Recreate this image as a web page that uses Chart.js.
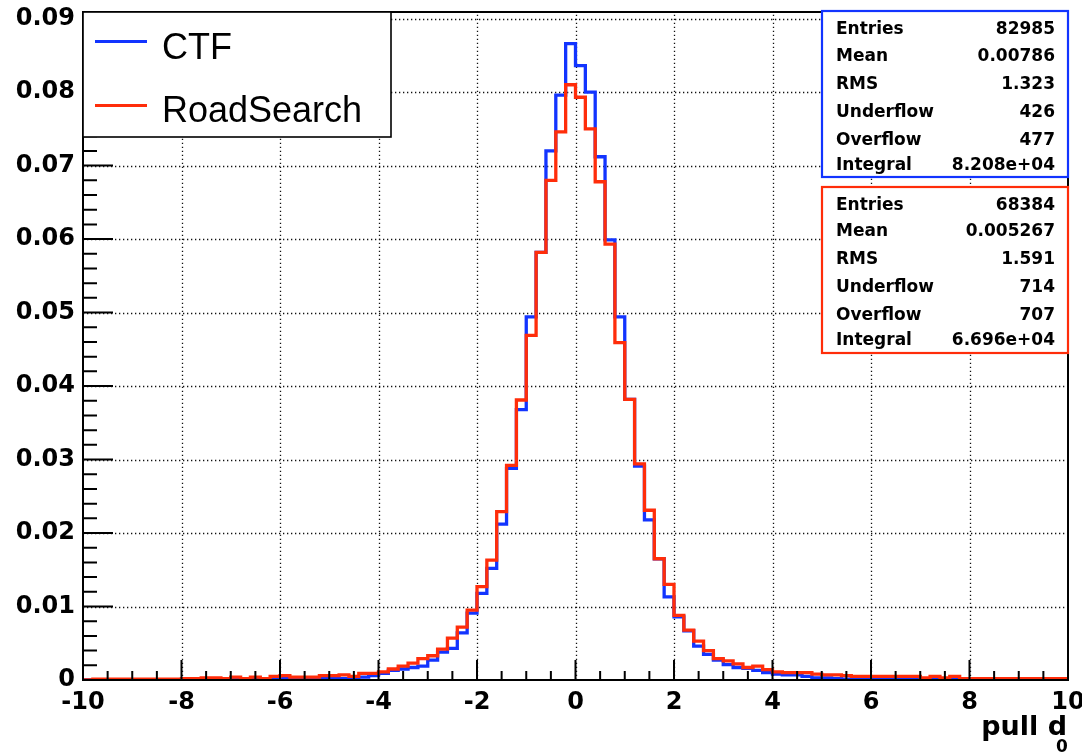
<!DOCTYPE html>
<html>
<head>
<meta charset="utf-8">
<script src="https://cdn.jsdelivr.net/npm/chart.js@4/dist/chart.umd.min.js"></script>
<style>
  body { margin: 0; background: #fff; }
  #wrap { width: 1082px; height: 753px; position: relative; }
</style>
</head>
<body>
<div id="wrap"><canvas id="pull"></canvas></div>
<script>
// histogramme : 100 bins de -10 a 10
const xMin = -10, xMax = 10, binWidth = 0.2;

const ctfValues = [
  0.00003, 0.00003, 0.00003, 0.00003, 0.00003, 0.00003, 0.00003, 0.00003, 0.00003, 0.00003,
  0.0001, 0.0001, 0.0001, 0.0001, 0.00008, 0.00008, 0.00008, 0.00008, 0.0002, 0.0002,
  0.0002, 0.0001, 0.0001, 0.0001, 0.0002, 0.0002, 0.0002, 0.0002, 0.0004, 0.0006,
  0.0009, 0.0013, 0.0015, 0.0017, 0.0019, 0.0027, 0.0038, 0.0043, 0.0064, 0.0091,
  0.0118, 0.0152, 0.0212, 0.0288, 0.0368, 0.0494, 0.0582, 0.0720, 0.0796, 0.0866,
  0.0836, 0.0800, 0.0712, 0.0599, 0.0494, 0.0382, 0.0291, 0.0218, 0.0165, 0.0113,
  0.0086, 0.0067, 0.0046, 0.0035, 0.0027, 0.0021, 0.0017, 0.0016, 0.0013, 0.0010,
  0.0008, 0.0007, 0.0007, 0.0005, 0.0003, 0.0003, 0.0002, 0.0001, 0.0001, 0.0001,
  0.0001, 0.0001, 0.0001, 0.0001, 0.0001, 0.0001, 0.0001, 0.0001, 0.0001, 0.00004,
  0.00004, 0.00004, 0.00004, 0.00004, 0.00004, 0.00004, 0.00004, 0.00004, 0.00004, 0.00004
];

const rsValues = [
  0.00003, 0.00013, 0.00013, 0.00013, 0.00013, 0.00013, 0.00013, 0.00013, 0.00013, 0.00013,
  0.0002, 0.0002, 0.0003, 0.0003, 0.0002, 0.0004, 0.0002, 0.0004, 0.0002, 0.0005,
  0.0006, 0.0004, 0.0004, 0.0004, 0.0006, 0.0006, 0.0007, 0.0005, 0.0009, 0.0009,
  0.0011, 0.0015, 0.0019, 0.0023, 0.0029, 0.0033, 0.0042, 0.0057, 0.0072, 0.0095,
  0.0127, 0.0163, 0.0229, 0.0292, 0.0381, 0.0469, 0.0582, 0.0680, 0.0746, 0.0810,
  0.0793, 0.0750, 0.0678, 0.0593, 0.0459, 0.0382, 0.0294, 0.0231, 0.0165, 0.0130,
  0.0088, 0.0068, 0.0053, 0.0040, 0.0029, 0.0026, 0.0022, 0.0017, 0.0019, 0.0014,
  0.0011, 0.0010, 0.0010, 0.0010, 0.0008, 0.0007, 0.0007, 0.0006, 0.0005, 0.0005,
  0.0005, 0.0005, 0.0005, 0.0005, 0.0005, 0.0003, 0.0005, 0.0003, 0.0005, 0.0002,
  0.0002, 0.0002, 0.0002, 0.0002, 0.0002, 0.0002, 0.0002, 0.0002, 0.0002, 0.0002
];

const xTicks = [-10, -8, -6, -4, -2, 0, 2, 4, 6, 8, 10];
const yTicks = [0, 0.01, 0.02, 0.03, 0.04, 0.05, 0.06, 0.07, 0.08, 0.09];
const yMax = 0.0909;

const statLabels = ['Entries', 'Mean', 'RMS', 'Underflow', 'Overflow', 'Integral'];
const ctfStats = ['82985', '0.00786', '1.323', '426', '477', '8.208e+04'];
const rsStats = ['68384', '0.005267', '1.591', '714', '707', '6.696e+04'];

const BLUE = '#1234ff';
const RED = '#ff2d0a';

// points des bords gauches des bins + bord droit final
function toSteps(values) {
  const pts = values.map((v, i) => ({ x: xMin + i * binWidth, y: v }));
  pts.push({ x: xMax, y: values[values.length - 1] });
  return pts;
}

const tickFont = { family: 'DejaVu Sans', weight: 'bold', size: 24 };

// grille pointillee (sous les histos)
const gridPlugin = {
  id: 'rootGrid',
  beforeDatasetsDraw(chart) {
    const { ctx, chartArea: a, scales: { x, y } } = chart;
    ctx.save();
    ctx.strokeStyle = '#111';
    ctx.lineWidth = 1.3;
    ctx.setLineDash([1.3, 2.7]);
    xTicks.forEach(v => {
      if (v === xMin || v === xMax) return;
      const px = Math.round(x.getPixelForValue(v)) + 0.5;
      ctx.beginPath(); ctx.moveTo(px, a.bottom); ctx.lineTo(px, a.top); ctx.stroke();
    });
    yTicks.forEach(v => {
      if (v === 0) return;
      const py = Math.round(y.getPixelForValue(v)) + 0.5;
      ctx.beginPath(); ctx.moveTo(a.left, py); ctx.lineTo(a.right, py); ctx.stroke();
    });
    ctx.restore();
  }
};

// cadre, ticks interieurs, legende, boites de stats, titre d'axe
const framePlugin = {
  id: 'rootFrame',
  afterDatasetsDraw(chart) {
    const { ctx, chartArea: a, scales: { x, y } } = chart;
    ctx.save();
    ctx.setLineDash([]);
    ctx.strokeStyle = '#000';

    // ticks
    ctx.lineWidth = 2;
    ctx.beginPath();
    for (let v = xMin; v <= xMax + 1e-9; v += 0.5) {
      const px = x.getPixelForValue(v);
      const major = Math.abs(v / 2 - Math.round(v / 2)) < 1e-6;
      ctx.moveTo(px, a.bottom); ctx.lineTo(px, a.bottom - (major ? 20 : 9));
    }
    for (let k = 0; k * 0.002 <= yMax; k++) {
      const py = y.getPixelForValue(k * 0.002);
      ctx.moveTo(a.left, py); ctx.lineTo(a.left + (k % 5 === 0 ? 30 : 14), py);
    }
    ctx.stroke();

    // cadre
    ctx.lineWidth = 2;
    ctx.strokeRect(a.left, a.top, a.right - a.left, a.bottom - a.top);

    // legende
    ctx.fillStyle = '#fff';
    ctx.fillRect(a.left, a.top, 308, 125);
    ctx.lineWidth = 1.6;
    ctx.strokeRect(a.left, a.top, 308, 125);
    const entries = [[chart.data.datasets[0], 41.5, 59], [chart.data.datasets[1], 105.5, 122]];
    entries.forEach(([ds, ly, by]) => {
      ctx.strokeStyle = ds.borderColor;
      ctx.lineWidth = 3;
      ctx.beginPath(); ctx.moveTo(95, ly); ctx.lineTo(147, ly); ctx.stroke();
      ctx.fillStyle = '#000';
      ctx.font = '36px "Liberation Sans"';
      ctx.textAlign = 'left';
      ctx.textBaseline = 'alphabetic';
      ctx.fillText(ds.label, 162, by);
    });

    // stats
    const boxes = [
      { color: BLUE, top: 11, vals: ctfStats, base: [34, 60.5, 88.5, 117, 145, 169.5] },
      { color: RED, top: 187, vals: rsStats, base: [209.5, 235.5, 264, 292, 319.5, 344.5] }
    ];
    boxes.forEach(b => {
      ctx.fillStyle = '#fff';
      ctx.fillRect(822, b.top, 246, 166);
      ctx.strokeStyle = b.color;
      ctx.lineWidth = 2.2;
      ctx.strokeRect(822, b.top, 246, 166);
      ctx.fillStyle = '#000';
      ctx.font = 'bold 17px "DejaVu Sans"';
      statLabels.forEach((lab, i) => {
        ctx.textAlign = 'left';
        ctx.fillText(lab, 836, b.base[i]);
        ctx.textAlign = 'right';
        ctx.fillText(b.vals[i], 1055, b.base[i]);
      });
    });

    // titre axe x
    ctx.fillStyle = '#000';
    ctx.textAlign = 'right';
    ctx.font = 'bold 27px "DejaVu Sans"';
    ctx.fillText('pull d', 1067, 735);
    ctx.textAlign = 'center';
    ctx.font = 'bold 17px "DejaVu Sans"';
    ctx.fillText('0', 1062, 752);
    ctx.restore();
  }
};

new Chart(document.getElementById('pull'), {
  type: 'line',
  data: {
    datasets: [
      { label: 'CTF', data: toSteps(ctfValues), borderColor: BLUE, borderWidth: 3.3,
        stepped: 'before', pointRadius: 0, fill: false, order: 2 },
      { label: 'RoadSearch', data: toSteps(rsValues), borderColor: RED, borderWidth: 3.3,
        stepped: 'before', pointRadius: 0, fill: false, order: 1 }
    ]
  },
  options: {
    responsive: true,
    maintainAspectRatio: false,
    animation: false,
    events: [],
    layout: { padding: { top: 12, right: 14, left: 0, bottom: 0 } },
    plugins: { legend: { display: false }, tooltip: { enabled: false } },
    scales: {
      x: {
        type: 'linear', min: xMin, max: xMax,
        grid: { display: false, drawTicks: false },
        border: { display: false },
        ticks: { font: tickFont, color: '#000', padding: 8, maxRotation: 0, autoSkip: false },
        afterBuildTicks: s => { s.ticks = xTicks.map(v => ({ value: v })); },
        afterFit: s => { s.height = 73; s.paddingLeft = 0; s.paddingRight = 0; }
      },
      y: {
        type: 'linear', min: 0, max: yMax,
        grid: { display: false, drawTicks: false },
        border: { display: false },
        ticks: { font: tickFont, color: '#000', padding: 8,
          callback: v => v === 0 ? '0' : v.toFixed(2) },
        afterBuildTicks: s => { s.ticks = yTicks.map(v => ({ value: v })); },
        afterFit: s => { s.height = undefined; s.width = 83; s.paddingTop = 0; s.paddingBottom = 0; }
      }
    }
  },
  plugins: [gridPlugin, framePlugin]
});
</script>
</body>
</html>
